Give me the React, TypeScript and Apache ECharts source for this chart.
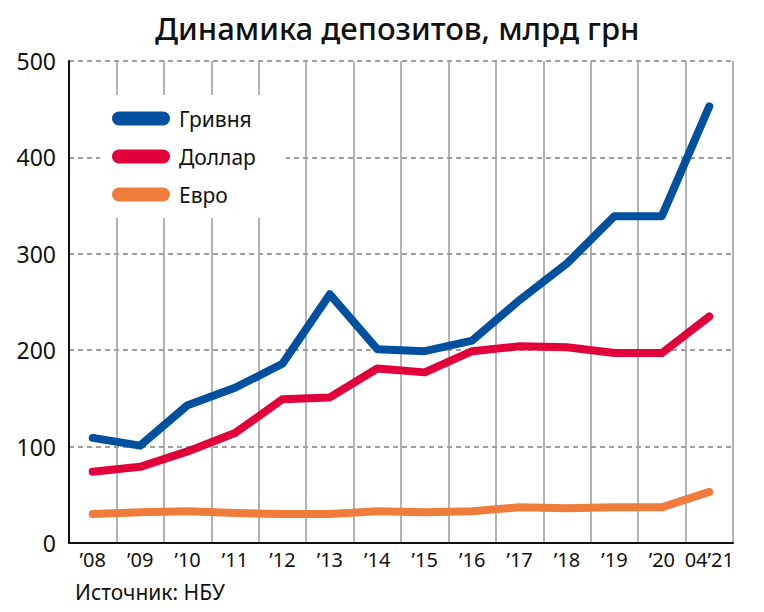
import React, { useEffect, useRef } from "react";
import * as echarts from "echarts";

const categories = ["’08", "’09", "’10", "’11", "’12", "’13", "’14", "’15", "’16", "’17", "’18", "’19", "’20", "04’21"];
const hryvnia = [109, 101, 143, 161, 186, 258, 201, 199, 210, 252, 290, 339, 339, 453];
const dollar = [74, 79, 95, 114, 149, 151, 181, 177, 199, 204, 203, 197, 197, 235];
const euro = [30, 32, 33, 31, 30, 30, 33, 32, 33, 37, 36, 37, 37, 53];
const seriesNames = ["Гривня", "Доллар", "Евро"];
const colors = ["#0050a0", "#e2003a", "#ef7c3b"];
const titleText = "Динамика депозитов, млрд грн";
const sourceText = "Источник: НБУ";

const FONT = "'Noto Sans', sans-serif";
const pill = "path://M7,0 H51 A7,7 0 0 1 51,14 H7 A7,7 0 0 1 7,0 Z";

export default function App() {
  const ref = useRef<HTMLDivElement>(null);
  useEffect(() => {
    if (!ref.current) return;
    const chart = echarts.init(ref.current, null, { renderer: "svg" });
    const values = [hryvnia, dollar, euro];
    chart.setOption({
      animation: false,
      backgroundColor: "#ffffff",
      textStyle: { fontFamily: FONT },
      title: {
        text: titleText,
        left: 150,
        top: 7,
        textStyle: { fontFamily: FONT, fontSize: 31, fontWeight: 500, color: "#111" },
      },
      legend: {
        data: seriesNames,
        orient: "vertical",
        left: 100,
        top: 95,
        padding: [13, 30, 13, 12],
        backgroundColor: "#ffffff",
        icon: pill,
        itemWidth: 58,
        itemHeight: 14,
        itemGap: 17,
        textStyle: { fontFamily: FONT, fontSize: 21, color: "#111", padding: [0, 0, 0, 4] },
      },
      grid: { left: 69, right: 31, top: 61, bottom: 69 },
      xAxis: {
        type: "category",
        data: categories,
        boundaryGap: true,
        axisLine: { show: true, lineStyle: { color: "#111", width: 2 } },
        axisTick: { show: false },
        axisLabel: { interval: 0, margin: 6, fontFamily: FONT, fontSize: 20, color: "#111" },
        splitLine: { show: true, interval: 0, lineStyle: { color: "#9a9a9a", width: 1.5, type: "solid" } },
      },
      yAxis: {
        type: "value",
        min: 0,
        max: 500,
        interval: 100,
        axisLine: { show: true, lineStyle: { color: "#111", width: 2 } },
        axisTick: { show: false },
        axisLabel: { margin: 13, fontFamily: FONT, fontSize: 23, color: "#111" },
        splitLine: { show: true, lineStyle: { color: "#808080", width: 1.5, type: [5, 4] } },
      },
      graphic: [
        {
          type: "text",
          left: 75,
          top: 581,
          style: { text: sourceText, fontFamily: FONT, fontSize: 21, fill: "#111" },
        },
      ],
      series: seriesNames.map((name, i) => ({
        name,
        type: "line",
        data: values[i],
        symbol: "none",
        z: 3 + (2 - i),
        color: colors[i],
        lineStyle: { width: 8, color: colors[i], cap: "round", join: "round" },
      })),
    });
    return () => chart.dispose();
  }, []);
  return <div ref={ref} style={{ position: "fixed", left: 0, top: 0, width: 764, height: 612 }} />;
}
